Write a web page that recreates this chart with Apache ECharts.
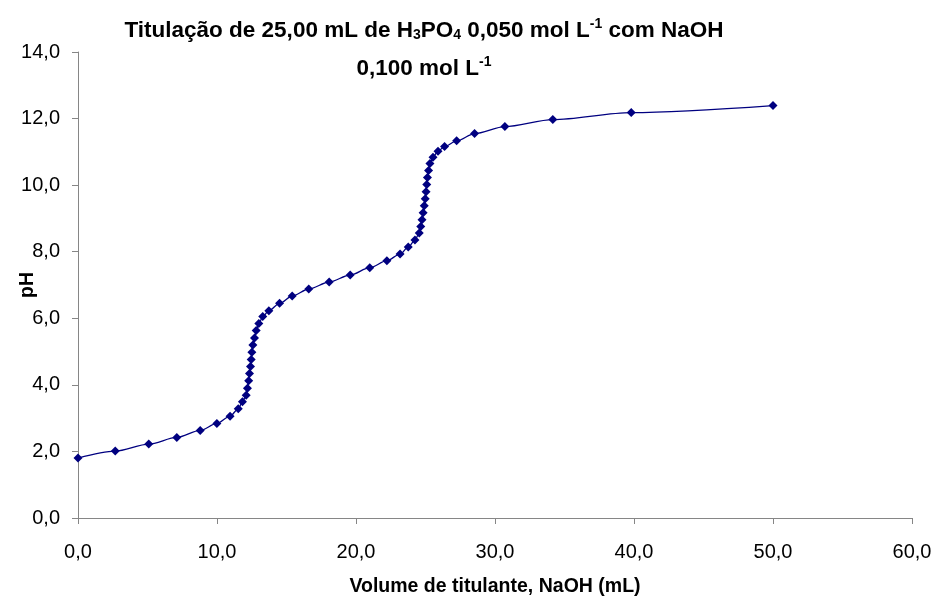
<!DOCTYPE html>
<html>
<head>
<meta charset="utf-8">
<script src="https://cdn.jsdelivr.net/npm/echarts@6/dist/echarts.min.js"></script>
<style>
    html, body { margin: 0; padding: 0; background: #fff; }
    #chart { width: 937px; height: 598px; }
</style>
</head>
<body>
<div id="chart"></div>
<script>
    // volume de NaOH (mL) e pH
    var volume = [0.0, 2.68, 5.09, 7.11, 8.79, 9.99, 10.94, 11.53, 11.83, 12.10,
        12.19, 12.28, 12.34, 12.41, 12.46, 12.51, 12.58, 12.70, 12.82, 13.01,
        13.29, 13.73, 14.50, 15.41, 16.60, 18.07, 19.58, 20.99, 22.22, 23.17,
        23.76, 24.24, 24.55, 24.66, 24.75, 24.83, 24.91, 24.98, 25.04, 25.09,
        25.14, 25.22, 25.32, 25.54, 25.90, 26.37, 27.24, 28.53, 30.71, 34.16,
        39.80, 50.00];
    var pH = [1.80, 2.01, 2.22, 2.42, 2.63, 2.84, 3.06, 3.28, 3.49, 3.69,
        3.90, 4.12, 4.34, 4.55, 4.76, 4.98, 5.20, 5.41, 5.63, 5.84,
        6.05, 6.23, 6.45, 6.67, 6.88, 7.09, 7.30, 7.52, 7.73, 7.93,
        8.14, 8.35, 8.56, 8.76, 8.96, 9.17, 9.38, 9.59, 9.80, 10.02,
        10.23, 10.44, 10.65, 10.84, 11.02, 11.16, 11.33, 11.55, 11.76, 11.97,
        12.18, 12.39];

    var font = 'Liberation Sans, Arial, sans-serif';
    var axisColor = '#868686';

    function virgula(v) {
        return v.toFixed(1).replace('.', ',');
    }

    var pontos = volume.map(function (v, i) { return [v, pH[i]]; });

    var chart = echarts.init(document.getElementById('chart'));
    chart.setOption({
        animation: false,
        title: {
            text: 'Titulação de 25,00 mL de H{sub|3}PO{sub|4} 0,050 mol L{sup|-1} com NaOH\n0,100 mol L{sup|-1}',
            left: 419,
            top: 7,
            textAlign: 'center',
            textStyle: {
                fontFamily: font,
                fontSize: 22.5,
                fontWeight: 'bold',
                color: '#000',
                lineHeight: 38,
                rich: {
                    sub: { fontFamily: font, fontSize: 14, fontWeight: 'bold', color: '#000', padding: [8, 0, 0, 0] },
                    sup: { fontFamily: font, fontSize: 14, fontWeight: 'bold', color: '#000', padding: [0, 0, 14, 0] }
                }
            }
        },
        grid: {
            left: 78,
            right: 25,
            top: 52,
            bottom: 80,
            containLabel: false,
            outerBoundsMode: 'none'
        },
        xAxis: {
            type: 'value',
            min: 0,
            max: 60,
            interval: 10,
            name: 'Volume de titulante, NaOH (mL)',
            nameLocation: 'middle',
            nameGap: 59,
            nameMoveOverlap: false,
            nameTextStyle: { fontFamily: font, fontSize: 19.5, fontWeight: 'bold', color: '#000' },
            axisLine: { lineStyle: { color: axisColor, width: 1 } },
            axisTick: { inside: false, length: 6, lineStyle: { color: axisColor } },
            axisLabel: { fontFamily: font, fontSize: 20, color: '#000', margin: 24, formatter: virgula },
            splitLine: { show: false }
        },
        yAxis: {
            type: 'value',
            min: 0,
            max: 14,
            interval: 2,
            name: 'pH',
            nameLocation: 'middle',
            nameRotate: 90,
            nameGap: 40,
            nameMoveOverlap: false,
            nameTextStyle: { fontFamily: font, fontSize: 19.5, fontWeight: 'bold', color: '#000' },
            axisLine: { show: true, lineStyle: { color: axisColor, width: 1 } },
            axisTick: { show: true, length: 6, lineStyle: { color: axisColor } },
            axisLabel: { fontFamily: font, fontSize: 20, color: '#000', margin: 18, formatter: virgula },
            splitLine: { show: false }
        },
        series: [{
            type: 'line',
            data: pontos,
            smooth: 0.3,
            smoothMonotone: 'x',
            symbol: 'diamond',
            symbolSize: 9,
            itemStyle: { color: '#000080' },
            lineStyle: { color: '#000080', width: 1.3 }
        }]
    });
</script>
</body>
</html>
